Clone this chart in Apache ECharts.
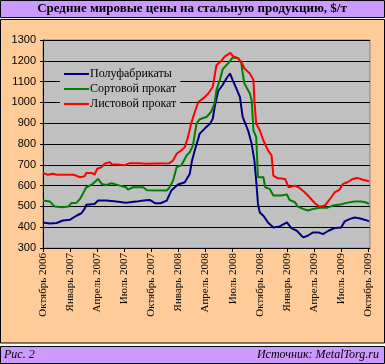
<!DOCTYPE html>
<html><head><meta charset="utf-8">
<script src="https://cdn.jsdelivr.net/npm/echarts@6/dist/echarts.min.js"></script>
<style>html,body{margin:0;padding:0;background:#fff}#c{width:385px;height:364px}</style>
</head><body><div id="c"></div>
<script>
// months counted from October 2006
const tickLabels = ['Октябрь 2006','Январь 2007','Апрель 2007','Июль 2007','Октябрь 2007','Январь 2008','Апрель 2008','Июль 2008','Октябрь 2008','Январь 2009','Апрель 2009','Июль 2009','Октябрь 2009'];
const seriesNames = ['Полуфабрикаты','Сортовой прокат','Листовой прокат'];

const semiMonths = [0,0.75,1.5,2.2,3,3.7,4.25,4.6,4.8,5.7,6.1,7,8.1,9.2,10.3,11.1,11.8,12.1,12.4,13,13.7,14.2,14.95,15.7,16.25,16.5,16.8,17.35,17.9,18.5,18.8,19,19.4,19.6,19.9,20.3,20.7,21,21.4,21.8,22.1,22.7,23.1,23.4,23.6,23.8,24,24.4,24.9,25.5,26.2,27,27.5,28.1,28.8,29.3,29.9,30.5,31,31.6,32.3,33,33.4,34,34.5,35.1,35.7,36.1];
const semiValues = [423,418,420,432,436,455,467,488,508,512,528,528,523,517,523,528,531,524,515,515,528,576,605,616,657,721,769,850,874,898,922,978,1055,1067,1085,1115,1139,1107,1067,1026,930,866,801,721,624,512,471,455,423,399,404,423,396,383,351,359,375,375,367,383,396,399,428,440,447,442,435,428];

const longMonths = [0,0.75,1.3,2.2,2.8,3.1,3.7,4.1,4.4,4.8,5.4,5.7,6.1,6.5,7,7.6,7.8,8.5,9.2,9.4,9.96,11.1,11.5,13.7,14,14.4,14.8,15.3,15.9,16.25,16.6,17,17.35,18.1,18.6,19,19.2,19.6,19.9,20.5,21,21.6,21.96,22.05,22.3,22.9,23.1,23.3,23.6,23.7,23.8,24.4,24.6,25.1,25.5,26.4,27,27.3,27.9,28.2,28.8,29.3,29.9,30.6,31.4,32.1,32.9,33.6,34.5,35.2,35.7,36.1];
const longValues = [528,524,499,496,499,515,517,536,560,592,605,616,632,608,603,611,603,600,592,581,592,592,578,576,592,624,689,697,745,761,793,898,919,930,954,995,1059,1110,1160,1188,1216,1212,1188,1155,1091,1043,1010,866,833,737,640,640,592,584,552,552,557,531,520,499,488,480,488,493,493,504,509,517,524,524,520,512];

const flatMonths = [0,0.55,1.1,1.5,3.4,3.5,4.1,4.6,4.8,5.4,5.7,6,6.5,6.8,7.4,7.6,8.3,9.05,9.6,10.7,11.3,14,14.4,14.8,15.3,15.7,16.05,16.4,16.8,17.2,17.7,18.3,18.8,19.2,19.75,20.1,20.5,20.75,21,21.6,21.96,22.3,22.9,23.3,23.4,23.6,24,24.4,24.9,25.3,25.5,25.9,26.8,27.2,27.9,28.4,28.97,29.5,30.1,30.6,31.2,31.7,32.3,32.8,33.2,33.7,34.3,34.8,35.4,36.1];
const flatValues = [660,652,657,652,652,645,640,645,661,661,652,681,689,705,713,702,702,698,708,708,705,708,721,753,769,785,833,898,954,1002,1018,1043,1075,1179,1200,1220,1231,1239,1223,1212,1195,1163,1139,1107,1010,898,866,817,769,745,648,637,632,592,600,589,568,544,515,499,504,531,568,579,608,616,632,637,628,621];

const pair = (xs, ys) => xs.map((x, i) => [x, ys[i]]);
const serif = "'Liberation Serif','DejaVu Serif',serif";
const colors = ['#000080', '#008000', '#ff0000'];

const chart = echarts.init(document.getElementById('c'), null, {renderer: 'canvas'});
chart.setOption({
  animation: false,
  backgroundColor: '#ffffff',
  graphic: [
    {type: 'rect', z: -10, shape: {x: 0.5, y: 0.5, width: 384, height: 17}, style: {fill: '#cc99ff', stroke: '#000', lineWidth: 1}},
    {type: 'rect', z: -10, shape: {x: 0.5, y: 19.5, width: 384, height: 323.5}, style: {fill: '#ffcc99', stroke: '#000', lineWidth: 1}},
    {type: 'rect', z: -10, shape: {x: 0.5, y: 346.5, width: 384, height: 17}, style: {fill: '#cc99ff', stroke: '#000', lineWidth: 1}},
    {type: 'text', z: 100, x: 192, y: 9, style: {text: 'Средние мировые цены на стальную продукцию, $/т', font: 'bold 13px ' + serif, fill: '#000', align: 'center', verticalAlign: 'middle'}},
    {type: 'text', z: 100, x: 4, y: 355, style: {text: 'Рис. 2', font: 'italic 12px ' + serif, fill: '#000', align: 'left', verticalAlign: 'middle'}},
    {type: 'text', z: 100, x: 379, y: 355, style: {text: 'Источник: MetalTorg.ru', font: 'italic 12px ' + serif, fill: '#000', align: 'right', verticalAlign: 'middle'}}
  ],
  grid: {left: 43, right: 15, top: 40, bottom: 116, show: true, backgroundColor: '#c0c0c0', borderColor: '#808080', borderWidth: 1},
  legend: {
    orient: 'vertical', left: 60, top: 66, padding: [2, 4, 2, 3],
    backgroundColor: '#c0c0c0',
    itemWidth: 25, itemHeight: 14, itemGap: 3,
    itemStyle: {opacity: 0},
    data: seriesNames,
    textStyle: {fontFamily: serif, fontSize: 12, color: '#000', padding: [0, 0, 0, -4]}
  },
  xAxis: {
    type: 'value', min: 0, max: 36.2, interval: 3,
    axisLine: {show: true, lineStyle: {color: '#000', width: 1}},
    axisTick: {show: true, length: 4, lineStyle: {color: '#000'}},
    splitLine: {show: false},
    axisLabel: {
      rotate: 90, margin: 5, fontFamily: serif, fontSize: 11, color: '#000',
      showMaxLabel: false,
      formatter: v => (Math.abs(v / 3 - Math.round(v / 3)) < 1e-6 ? (tickLabels[Math.round(v / 3)] || '') : '')
    }
  },
  yAxis: {
    type: 'value', min: 300, max: 1300, interval: 100,
    axisLine: {show: true, lineStyle: {color: '#000', width: 1}},
    axisTick: {show: true, length: 3, lineStyle: {color: '#000'}},
    splitLine: {show: true, lineStyle: {color: '#000', width: 1}},
    axisLabel: {margin: 7, fontFamily: "'Liberation Sans',Arial,sans-serif", fontSize: 11, color: '#000', formatter: v => String(v)}
  },
  series: [
    {name: seriesNames[0], type: 'line', data: pair(semiMonths, semiValues), symbol: 'none', color: colors[0], lineStyle: {width: 2, color: colors[0]}},
    {name: seriesNames[1], type: 'line', data: pair(longMonths, longValues), symbol: 'none', color: colors[1], lineStyle: {width: 2, color: colors[1]}},
    {name: seriesNames[2], type: 'line', data: pair(flatMonths, flatValues), symbol: 'none', color: colors[2], lineStyle: {width: 2, color: colors[2]}}
  ]
});
</script>
</body></html>
